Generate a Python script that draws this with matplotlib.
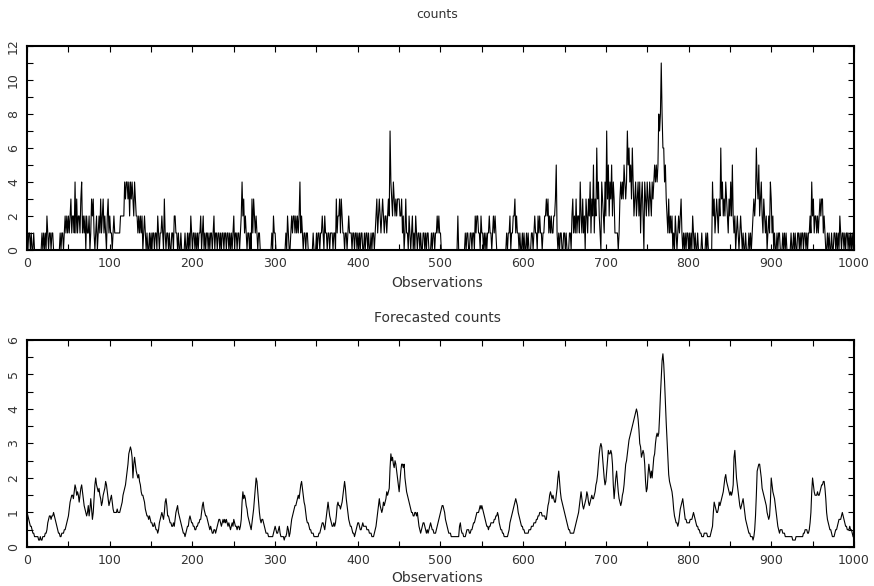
import numpy as np
import matplotlib
matplotlib.use("Agg")
import matplotlib.pyplot as plt
from matplotlib.ticker import MultipleLocator

# observed counts, one character per observation (hex digit, b = 11)
counts_str = """
1011010010 0000000010 1010210110 1100000000 1011012121
2123122141 3122134121 2021120132 3101201213 1231210231
2110121111 1112222243 4434243432 4322121212 0121010010
1011011021 0112103101 1010011022 1101001000 0100101021
0110101011 2012010110 1011012011 0110101101 1011010101
2011011012 4231210110 1031321210 1100000000 0000001021
1000000000 0001021001 2122121212 4121011011 0000001000
1011011210 2110110111 0110312231 3211011012 1110110110
1010110010 1101001011 0123123212 3212212327 4324323233
3223120131 1021012010 2101101001 1010110001 0110112121
1000000000 0000000000 0200000000 1011001101 1021221102
1101010112 1101212100 0000000000 1011201122 3121101001
0100101000 1101211021 2110112232 3121211223 5101011001
1010001102 3121312214 2131203213 2413251326 3421043214
2735243524 3111101343 4354347564 5364234234 2413420432
4324324345 4545878b86 6453213121 2010210121 2310101011
0101021010 0100001000 0101000004 2312321326 3423243213
2425212012 1012101001 0001010123 2364352342 1321201214
3120100101 1000101010 0000100101 0011010110 1101011214
2312212123 2331210010 1001001101 0102101101 0110101010
"""
counts = np.array([int(c, 16) for c in counts_str if c.strip()])

# forecasted counts, times ten
forecast_str = """
10 9 8 7 6 6 5 4 4 3  3 3 3 3 2 2 3 2 2 3  3 3 4 4 5 7 8 9 9 8  9 9 10 9 8 7 6 5 4 4  3 3 4 4 4 5 5 6 7 8
9 11 13 14 15 15 14 16 18 17  15 16 15 13 15 17 18 16 14 12  11 10 9 10 12 9 11 14 11 8  10 14 18 20 18 17 16 17 15 14  12 13 15 16 17 19 18 16 14 12
13 14 15 13 11 10 10 10 10 11  10 10 10 11 12 13 15 16 17 18  20 22 24 27 28 29 28 26 20 24  26 24 22 21 20 21 19 18 16 15  15 14 13 11 10 9 9 8 9 8
7 7 6 6 7 6 5 5 4 5  7 8 9 10 9 8 10 13 14 12  9 9 8 7 7 6 6 7 6 8  10 11 12 10 9 8 7 6 5 4  4 3 4 5 6 6 8 9 8 7
7 6 6 5 5 6 6 7 7 8  8 10 12 13 11 10 9 9 8 7  6 5 6 5 4 4 5 5 4 5  6 7 8 8 7 6 7 8 7 8  7 8 7 6 7 6 5 6 7 6
8 7 6 6 5 6 6 5 6 8  13 16 14 15 14 12 11 9 8 7  6 5 7 9 11 14 17 20 19 16  13 10 8 7 8 8 7 6 5 4  4 4 3 3 3 3 3 3 4 5
6 5 4 4 5 6 4 3 3 3  3 2 3 3 4 6 5 3 4 6  8 9 10 11 12 12 13 14 15 14  16 18 19 17 15 13 12 10 8 7  7 6 5 5 4 4 4 3 3 3
3 3 3 4 4 5 6 7 7 6  5 7 9 11 13 11 9 8 7 6  6 7 6 7 9 12 13 12 12 11  12 13 15 17 19 17 14 12 10 8  7 6 6 5 4 4 3 4 5 6
7 7 6 5 5 6 7 6 6 6  6 5 5 5 4 4 4 3 3 3  4 5 6 8 10 12 14 12 11 10  11 13 12 13 14 16 15 16 17 23  27 25 26 24 23 25 24 22 20 18
16 19 22 24 24 23 24 20 18 16  15 14 13 12 11 10 10 9 9 10  10 9 10 8 6 5 4 5 6 7  7 6 5 4 5 4 5 6 7 6  5 5 4 4 4 5 6 7 8 9
10 11 12 12 11 10 8 7 6 5  4 4 4 3 3 3 3 3 3 3  3 3 3 6 7 5 4 4 3 3  3 4 5 5 5 4 4 5 5 6  7 7 8 9 10 10 10 11 12 11
12 11 10 9 8 7 6 6 5 6  6 7 7 7 7 8 8 9 9 10  9 7 6 5 5 4 4 3 3 3  3 3 4 5 7 8 9 10 11 12  13 14 13 12 10 9 8 7 6 6
5 5 4 4 4 4 4 5 5 5  6 6 6 7 7 7 8 8 9 9  10 10 10 9 9 9 9 8 8 10  12 13 15 16 15 14 15 14 13 13  15 17 20 22 19 16 14 13 12 11
10 9 8 7 6 5 5 4 4 4  4 4 5 6 7 8 9 10 12 14  16 14 12 11 12 13 14 16 15 13  12 13 14 15 14 14 15 16 18 19  21 24 27 29 30 29 26 23 20 18
19 22 25 28 27 27 28 27 24 18  14 17 20 22 19 16 14 13 12 13  15 16 18 21 24 25 27 29 31 32  33 34 35 36 37 38 39 40 39 37  34 30 29 26 27 28 27 24 19 16
17 21 24 22 20 22 20 23 26 27  30 32 33 32 33 38 44 49 54 56  53 48 42 36 31 26 21 19 18 17  16 14 11 9 8 7 7 6 7 9  11 12 13 14 12 10 8 8 7 7
7 7 8 8 8 9 10 9 8 7  6 6 5 5 4 4 3 3 3 4  4 4 4 3 3 3 3 4 5 6  10 13 12 11 10 10 11 13 12 13  14 15 16 18 20 21 19 18 17 16
15 16 15 16 18 26 28 24 20 18  16 14 12 11 12 13 14 12 10 8  7 6 5 4 4 3 3 3 2 3  5 9 15 22 23 24 24 22 20 17  16 15 14 13 12 10 9 8 9 13
20 18 16 15 14 12 10 8 6 5  4 5 5 5 4 4 4 3 3 3  3 3 3 3 3 3 2 2 2 2  3 3 3 3 3 3 3 3 3 4  4 5 5 5 4 4 5 7 10 16
20 18 16 15 15 15 16 15 15 16  17 18 18 19 19 17 14 10 8 7  6 5 5 4 3 3 3 4 5 5  6 7 8 8 8 9 10 9 8 7  6 6 5 5 5 6 5 5 4 3
"""
forecast = np.array(forecast_str.split(), dtype=float) / 10.0

obs = np.arange(len(counts))
obs_f = np.arange(len(forecast))

txt = '#333333'
plt.rcParams['font.family'] = ['DejaVu Sans']
plt.rcParams['font.size'] = 9

fig = plt.figure(figsize=(8.74, 5.86), dpi=100)
ax1 = fig.add_axes([0.031, 0.5734, 0.946, 0.3481])
ax2 = fig.add_axes([0.031, 0.0666, 0.946, 0.3532])

ax1.plot(obs, counts, color='black', lw=0.8)
ax2.plot(obs_f, forecast, color='black', lw=0.8)

def style(ax, ymax, ymaj, ymin):
    ax.set_xlim(0, 1000)
    ax.set_ylim(0, ymax)
    ax.xaxis.set_major_locator(MultipleLocator(100))
    ax.xaxis.set_minor_locator(MultipleLocator(50))
    ax.yaxis.set_major_locator(MultipleLocator(ymaj))
    ax.yaxis.set_minor_locator(MultipleLocator(ymin))
    ax.tick_params(which='both', direction='in', top=True, right=True,
                   colors='black', labelcolor=txt, width=0.8, length=4)
    ax.tick_params(which='major', pad=5, labelsize=9)
    for lab in ax.get_yticklabels():
        lab.set_rotation(90)
        lab.set_va('center')
    for s in ax.spines.values():
        s.set_linewidth(1.5)

style(ax1, 12, 2, 1)
style(ax2, 6, 1, 0.5)

fig.text(0.5, 0.975, 'counts', ha='center', va='center', color=txt, fontsize=9)
fig.text(0.5, 0.517, 'Observations', ha='center', va='center', color=txt, fontsize=10)
fig.text(0.5, 0.457, 'Forecasted counts', ha='center', va='center', color=txt, fontsize=10)
fig.text(0.5, 0.014, 'Observations', ha='center', va='center', color=txt, fontsize=10)

fig.savefig('out.png', dpi=100)
